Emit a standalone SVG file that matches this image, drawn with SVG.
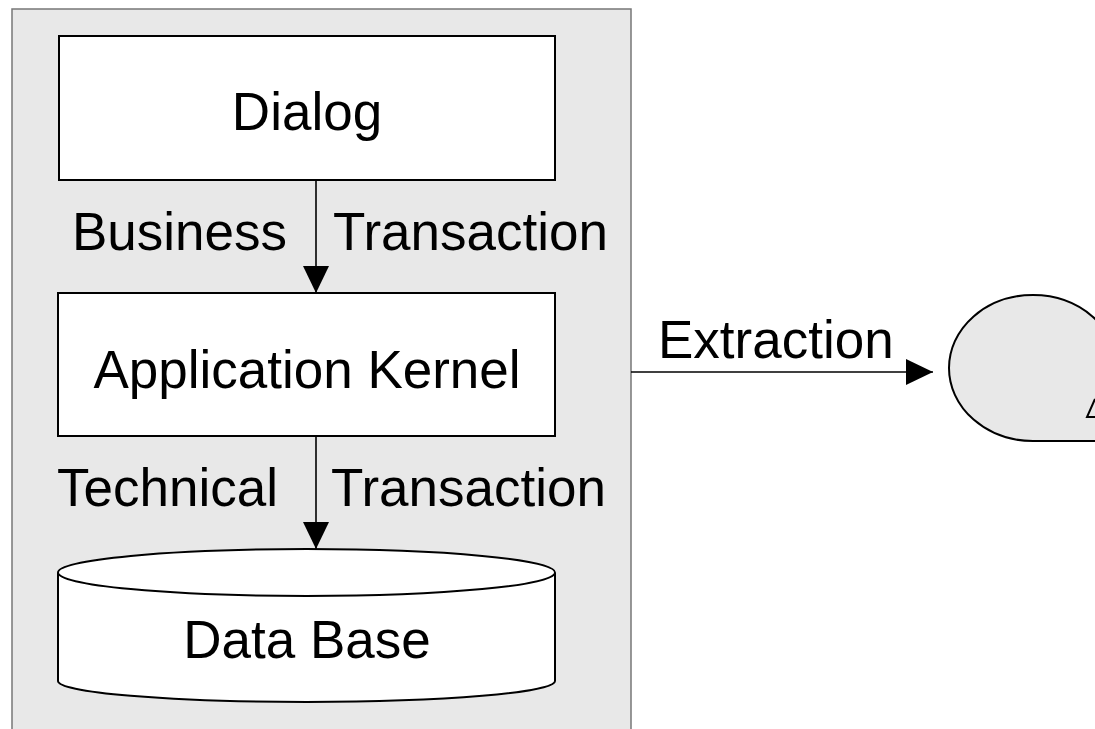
<svg xmlns="http://www.w3.org/2000/svg" width="1095" height="729" viewBox="0 0 1095 729">
<defs>
<style>
.box{fill:#ffffff;stroke:#000;stroke-width:2}
.lbl{font-family:"Liberation Sans",Arial,sans-serif;font-size:53px;fill:#000}
.mid{text-anchor:middle}
.conn{stroke:#000;stroke-width:1.6;fill:none}
</style>
<marker id="arr" markerUnits="userSpaceOnUse" markerWidth="28" markerHeight="26" refX="27" refY="13" orient="auto">
<path d="M0,0 L27,13 L0,26 Z" fill="#000"/>
</marker>
</defs>
<rect width="1095" height="729" fill="#ffffff"/>
<g id="panel">
<rect x="12" y="9" width="619" height="740" fill="#e8e8e8" stroke="#777" stroke-width="1.5"/>
</g>
<g id="dialog">
<rect class="box" x="59" y="36" width="496" height="144"/>
<text class="lbl mid" x="307" y="130">Dialog</text>
</g>
<g id="kernel">
<rect class="box" x="58" y="293" width="497" height="143"/>
<text class="lbl mid" x="307" y="388">Application Kernel</text>
</g>
<g id="database">
<path class="box" d="M58,573 L58,681 A248.5,21 0 0 0 555,681 L555,573"/>
<ellipse class="box" cx="306.5" cy="572.5" rx="248.5" ry="23.5"/>
<text class="lbl mid" x="307" y="658">Data Base</text>
</g>
<g id="tape">
<path d="M1033,441 A84,73 0 1 1 1117,368 L1117,441 Z" fill="#e8e8e8" stroke="#000" stroke-width="2"/>
<path d="M1095,399 L1087,417 L1095,417" fill="none" stroke="#000" stroke-width="2"/>
</g>
<g id="connectors">
<line class="conn" x1="316" y1="180" x2="316" y2="293" marker-end="url(#arr)"/>
<line class="conn" x1="316" y1="436" x2="316" y2="549" marker-end="url(#arr)"/>
<line class="conn" x1="631" y1="372" x2="933" y2="372" marker-end="url(#arr)"/>
<text class="lbl" x="72" y="250">Business</text>
<text class="lbl" x="333" y="250">Transaction</text>
<text class="lbl" x="57" y="506">Technical</text>
<text class="lbl" x="331" y="506">Transaction</text>
<text class="lbl" x="658" y="358">Extraction</text>
</g>
</svg>
